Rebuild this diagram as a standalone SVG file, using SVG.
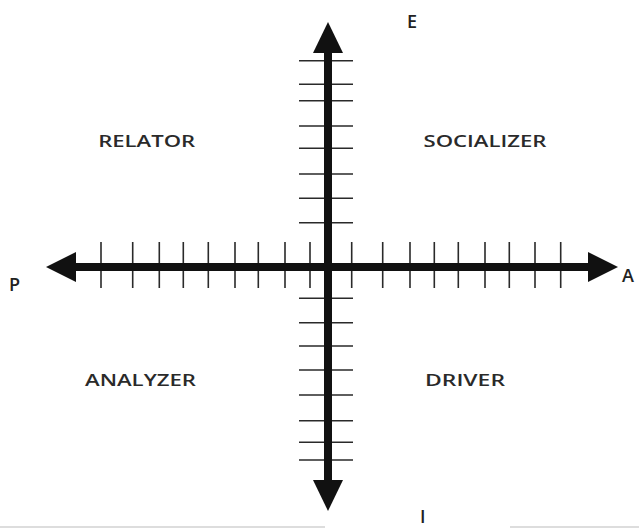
<svg xmlns="http://www.w3.org/2000/svg" width="639" height="529" viewBox="0 0 639 529">
<style>
.tick{stroke:#2a2a2a;stroke-width:1.6;fill:none}
.axis{stroke:#111;stroke-width:8;fill:none}
.head{fill:#111}
.lbl{font-family:"Open Sans","Noto Sans",sans-serif;font-size:17px;font-weight:600;fill:#2a2a2a;text-anchor:middle}
.axl{font-family:"Open Sans","Noto Sans",sans-serif;font-size:18px;font-weight:600;fill:#222}
.edge{stroke:#ddd;stroke-width:2}
</style>
<rect width="639" height="529" fill="#fff"/>
<g id="connectors">
<g id="v-ticks">
<path class="tick" d="M299 60.7H353M299 84.3H353M299 100.7H353M299 126H353M299 148.3H353M299 174H353M299 198.3H353M299 222.7H353M299 298.3H353M299 322.7H353M299 346H353M299 370H353M299 395H353M299 420.7H353M299 442.3H353M299 460H353"/>
</g>
<g id="h-ticks">
<path class="tick" d="M101 242V288M132.7 242V288M159.3 242V288M183.3 242V288M208.3 242V288M235 242V288M258.3 242V288M285 242V288M310 242V288M351.7 242V288M382.7 242V288M410 242V288M434.3 242V288M458.3 242V288M485 242V288M509.3 242V288M535 242V288M560.7 242V288"/>
</g>
<line id="v-axis" class="axis" x1="328" y1="50" x2="328" y2="483"/>
<line id="h-axis" class="axis" x1="72" y1="267" x2="591" y2="267"/>
<polygon class="head" points="328,22 343,53 313,53"/>
<polygon class="head" points="328,511 343,480 313,480"/>
<polygon class="head" points="46,267 76,252 76,282"/>
<polygon class="head" points="618,267 588,252 588,282"/>
</g>
<g id="node-E"><text class="axl" x="407" y="28">E</text></g>
<g id="node-P"><text class="axl" x="9" y="291">P</text></g>
<g id="node-A"><text class="axl" x="622" y="282">A</text></g>
<g id="node-I"><text class="axl" x="420" y="523">I</text></g>
<g id="node-relator"><text class="lbl" x="146.7" y="147" textLength="97" lengthAdjust="spacingAndGlyphs">RELATOR</text></g>
<g id="node-socializer"><text class="lbl" x="485" y="147" textLength="123" lengthAdjust="spacingAndGlyphs">SOCIALIZER</text></g>
<g id="node-analyzer"><text class="lbl" x="140.5" y="386" textLength="111" lengthAdjust="spacingAndGlyphs">ANALYZER</text></g>
<g id="node-driver"><text class="lbl" x="465" y="386" textLength="80" lengthAdjust="spacingAndGlyphs">DRIVER</text></g>
<g id="page-edges">
<line class="edge" x1="0" y1="527" x2="325" y2="527"/>
<line class="edge" x1="510" y1="527" x2="639" y2="527"/>
</g>
</svg>
